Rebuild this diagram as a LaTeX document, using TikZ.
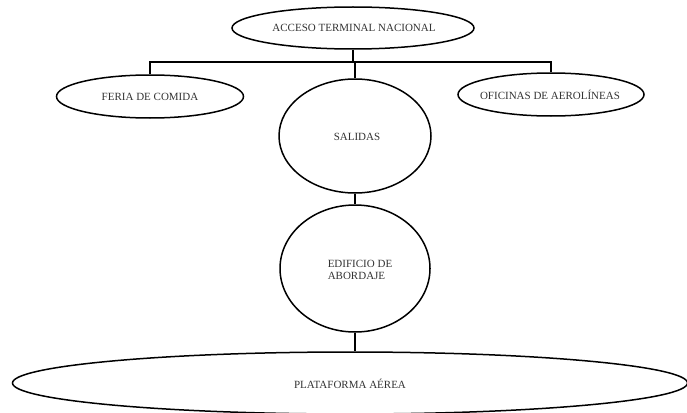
\documentclass[tikz,border=0pt]{standalone}
\usepackage{fontspec}
\setmainfont{Liberation Serif}
\usetikzlibrary{shapes.geometric}
\begin{document}
\begin{tikzpicture}[x=1pt,y=-1pt,
  shp/.style={ellipse, draw=black, line width=1.5pt, inner sep=0pt, fill=white},
  lbl/.style={font=\fontsize{11}{12.5}\selectfont, text=black!80},
  conn/.style={draw=black, line width=1.5pt}]
\useasboundingbox (0,0) rectangle (687,412);
\node[shp, minimum width=242pt, minimum height=42pt] (top) at (353,28) {};
\node[lbl] (toptxt) at (354,28) {ACCESO TERMINAL NACIONAL};
\node[shp, minimum width=187pt, minimum height=43pt] (feria) at (150,96.5) {};
\node[lbl] (feriatxt) at (150,97) {FERIA DE COMIDA};
\node[shp, minimum width=186pt, minimum height=43pt] (ofic) at (551,94.5) {};
\node[lbl] (ofictxt) at (550,95) {OFICINAS DE AEROLÍNEAS};
\node[shp, minimum width=152pt, minimum height=114pt] (sal) at (355,136) {};
\node[lbl] (saltxt) at (357,137) {SALIDAS};
\node[shp, minimum width=150pt, minimum height=127pt] (edif) at (355,268.5) {};
\node[lbl, align=left] (ediftxt) at (360,270) {EDIFICIO DE\\ABORDAJE};
\node[shp, minimum width=675pt, minimum height=62pt] (plat) at (350,383) {};
\node[lbl] (plattxt) at (350,384) {PLATAFORMA AÉREA};
\coordinate (bar) at (355,62);
\draw[conn] (top.south) -- (top.south |- bar);
\draw[conn] (feria.north) |- (bar) -| (ofic.north);
\draw[conn] (bar) -- (sal.north);
\draw[conn] (sal.south) -- (edif.north);
\draw[conn] (edif.south) -- (edif.south |- plat.north);
\end{tikzpicture}
\end{document}
